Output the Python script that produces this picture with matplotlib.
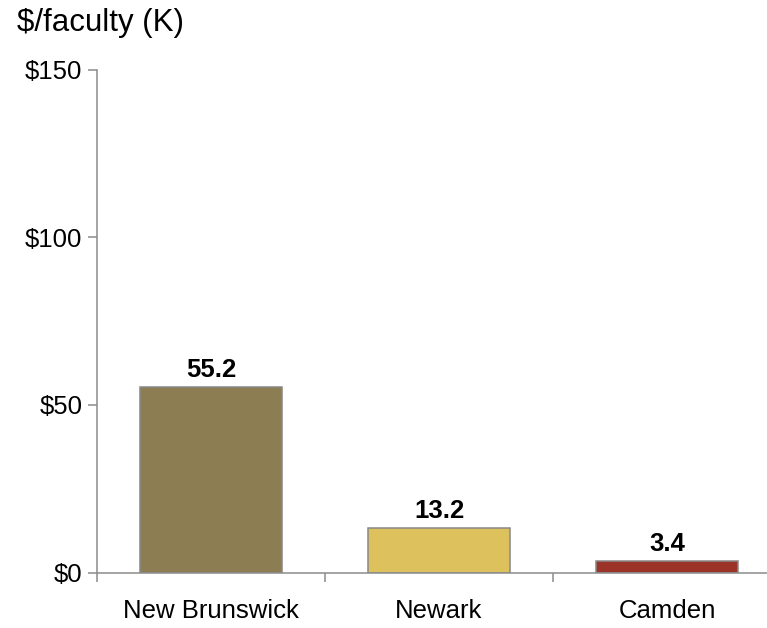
import numpy as np
import matplotlib
matplotlib.use('Agg')
import matplotlib.pyplot as plt

plt.rcParams['font.family'] = ['Liberation Sans', 'DejaVu Sans']

campuses = ['New Brunswick', 'Newark', 'Camden']
values = [55.2, 13.2, 3.4]
colors = ['#8C7D52', '#DDC15D', '#9B3329']
yticks = [0, 50, 100, 150]
ytick_labels = ['$0', '$50', '$100', '$150']

grey = '#8C8C8C'

fig = plt.figure(figsize=(7.67, 6.28), dpi=100)
# axis runs past the right edge of the picture, as in the original
ax = fig.add_axes([97 / 767, 55.5 / 628, 684 / 767, 503 / 628])

x = np.arange(len(campuses))
bars = ax.bar(x, values, width=0.627, color=colors, edgecolor='#888888', linewidth=1.1)

for b, v in zip(bars, values):
    ax.annotate(f'{v:.1f}', (b.get_x() + b.get_width() / 2, v),
                xytext=(0, 4), textcoords='offset points',
                ha='center', va='bottom', fontsize=18.5, fontweight='bold')

ax.set_xlim(-0.5, 2.5)
ax.set_ylim(0, 150)

for s in ['top', 'right']:
    ax.spines[s].set_visible(False)
for s in ['left', 'bottom']:
    ax.spines[s].set_color(grey)
    ax.spines[s].set_linewidth(1.1)

ax.set_yticks(yticks)
ax.set_yticklabels(ytick_labels)
ax.tick_params(axis='y', direction='out', length=6.5, width=1.1, color=grey,
               labelsize=18.5, pad=4)

# tick marks at category boundaries, labels at the centres
ax.set_xticks([-0.5, 0.5, 1.5, 2.5])
ax.set_xticklabels([])
ax.tick_params(axis='x', which='major', direction='out', length=6.5, width=1.1, color=grey)
ax.set_xticks(x, minor=True)
ax.set_xticklabels(campuses, minor=True)
ax.tick_params(axis='x', which='minor', length=0, labelsize=18.5, pad=19)

fig.text(17 / 767, 1 - 8 / 628, '$/faculty (K)', fontsize=22.5, ha='left', va='top')

fig.savefig('out.png', dpi=100)
